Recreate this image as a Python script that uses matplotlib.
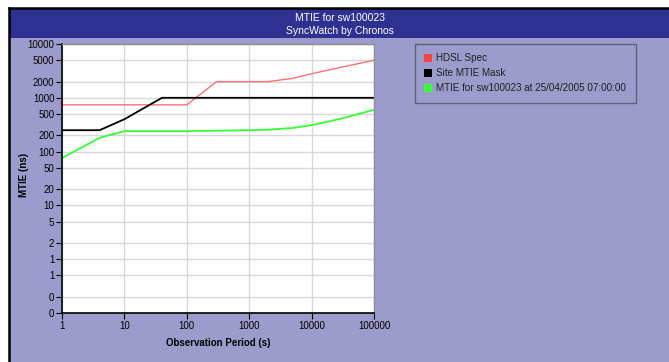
import numpy as np
import matplotlib
matplotlib.use("Agg")
import matplotlib.pyplot as plt
from matplotlib.patches import Rectangle
from matplotlib.lines import Line2D
from matplotlib.ticker import FixedLocator, FuncFormatter, NullLocator

plt.rcParams['font.family'] = ['Liberation Sans', 'DejaVu Sans']

# datos
hdsl_x = [1, 100, 300, 2000, 5000, 10000, 30000, 100000]
hdsl_y = [740, 740, 2000, 2000, 2300, 2800, 3700, 5000]

mask_x = [1, 4, 10, 40, 100000]
mask_y = [250, 250, 400, 1000, 1000]

mtie_x = [1, 4, 10, 100, 1000, 2000, 5000, 10000, 30000, 100000]
mtie_y = [76, 180, 240, 240, 250, 255, 275, 310, 410, 600]

x_ticks = [1, 10, 100, 1000, 10000, 100000]
y_ticks = [0.1, 0.2, 0.5, 1, 2, 5, 10, 20, 50, 100, 200, 500, 1000, 2000, 5000, 10000]

fondo = '#9c9ccc'
barra = '#2e3192'

W, H = 669, 362
fig = plt.figure(figsize=(W / 100, H / 100), dpi=100)
fig.patch.set_facecolor('white')

# fondo lavanda y barra de titulo
fig.add_artist(Rectangle((10 / W, 0), 1, (H - 9) / H, transform=fig.transFigure,
                         facecolor=fondo, edgecolor='none', zorder=0))
fig.add_artist(Rectangle((10 / W, (H - 38) / H), 1, 29 / H, transform=fig.transFigure,
                         facecolor=barra, edgecolor='none', zorder=1))
fig.add_artist(Line2D([9 / W, 1], [(H - 8) / H] * 2, transform=fig.transFigure,
                      color='black', lw=1.8, zorder=2))
fig.add_artist(Line2D([9 / W] * 2, [0, (H - 8) / H], transform=fig.transFigure,
                      color='black', lw=1.8, zorder=2))

fig.text(340 / W, 1 - 18 / H, 'MTIE for sw100023', color='white', fontsize=7.5,
         ha='center', va='center')
fig.text(340 / W, 1 - 31 / H, 'SyncWatch by Chronos', color='white', fontsize=7.5,
         ha='center', va='center')

ax = fig.add_axes([62 / W, 1 - 313 / H, (374 - 62) / W, (313 - 44) / H])
ax.set_facecolor('white')
ax.set_xscale('log')
ax.set_yscale('log')
ax.set_xlim(1, 100000)
ax.set_ylim(0.1, 10000)

ax.plot(hdsl_x, hdsl_y, color='#ff7070', lw=1, label='HDSL Spec')
ax.plot(mask_x, mask_y, color='black', lw=1.3, label='Site MTIE Mask')
ax.plot(mtie_x, mtie_y, color='#33ff33', lw=1.3, label='MTIE for sw100023 at 25/04/2005 07:00:00')

ax.xaxis.set_major_locator(FixedLocator(x_ticks))
ax.xaxis.set_minor_locator(NullLocator())
ax.xaxis.set_major_formatter(FuncFormatter(lambda v, p: '%d' % int(np.floor(v + 0.5))))
ax.yaxis.set_major_locator(FixedLocator(y_ticks))
ax.yaxis.set_minor_locator(NullLocator())
ax.yaxis.set_major_formatter(FuncFormatter(lambda v, p: '%d' % int(np.floor(v + 0.5))))
ax.tick_params(labelsize=7, length=4, width=0.8, pad=1.5, colors='black')
ax.grid(True, color='#d8d8d8', lw=1)
ax.set_axisbelow(True)

for lado in ['top', 'right']:
    ax.spines[lado].set_color('#909090')
    ax.spines[lado].set_linewidth(1)
for lado in ['left', 'bottom']:
    ax.spines[lado].set_color('black')
    ax.spines[lado].set_linewidth(1.2)

ax.set_xlabel('Observation Period (s)', fontsize=7, fontweight='bold', labelpad=5)
ax.set_ylabel('MTIE (ns)', fontsize=7, fontweight='bold')
ax.yaxis.set_label_coords(-0.105, 0.513)

handles = [Rectangle((0, 0), 1, 1, facecolor=c, edgecolor='none')
           for c in ['#ff4040', 'black', '#33ff33']]
labels = ['HDSL Spec', 'Site MTIE Mask', 'MTIE for sw100023 at 25/04/2005 07:00:00']
leg = fig.legend(handles, labels, loc='upper left',
                 bbox_to_anchor=(415 / W, 1 - 44 / H, (636 - 415) / W, 0),
                 mode='expand', fontsize=7.15, frameon=True, fancybox=False,
                 handlelength=0.8, handleheight=0.8, handletextpad=0.4,
                 labelspacing=0.5, borderpad=0.95, borderaxespad=0)
leg.get_frame().set_facecolor(fondo)
leg.get_frame().set_edgecolor('#505060')
leg.get_frame().set_linewidth(1)
for t in leg.get_texts():
    t.set_color('#202020')

fig.savefig('out.png', dpi=100)
